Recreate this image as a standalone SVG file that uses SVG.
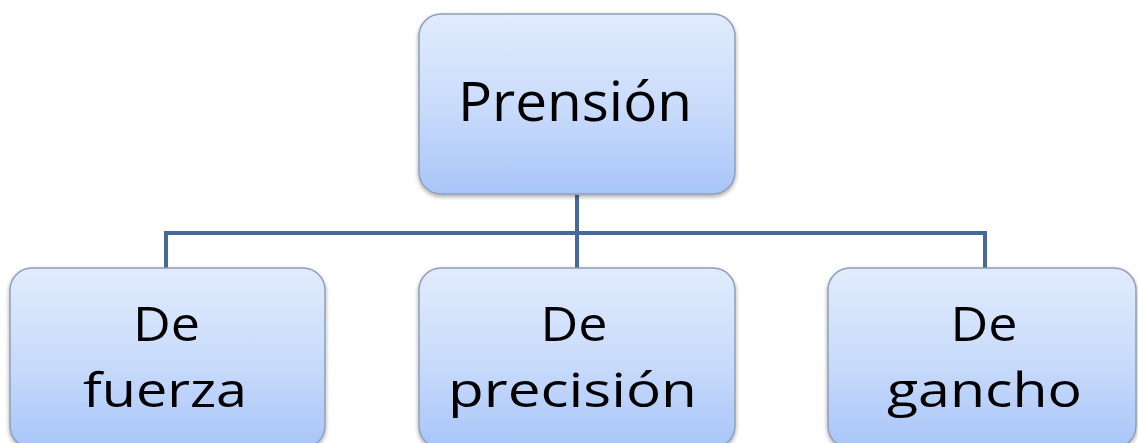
<svg xmlns="http://www.w3.org/2000/svg" width="1138" height="443" viewBox="0 0 1138 443">
  <defs>
    <linearGradient id="boxFill" x1="0" y1="0" x2="0" y2="1">
      <stop offset="0" stop-color="#e1ebfc"/>
      <stop offset="0.5" stop-color="#cadcfb"/>
      <stop offset="1" stop-color="#a8c5f8"/>
    </linearGradient>
    <filter id="shadow" x="-10%" y="-10%" width="120%" height="130%">
      <feDropShadow dx="0" dy="2" stdDeviation="2" flood-color="#000" flood-opacity="0.35"/>
    </filter>
  </defs>
  <style>
    .box { fill: url(#boxFill); stroke: #8e9fb8; stroke-width: 1.5; filter: url(#shadow); }
    .label { font-family: "Open Sans", "Noto Sans", sans-serif; fill: #000; text-anchor: middle; }
    .top { font-size: 54px; }
    .sub { font-size: 48px; }
    .link { fill: none; stroke: #45699a; stroke-width: 4; }
  </style>
  <rect width="1138" height="443" fill="#fff"/>

  <g id="connectors">
    <path class="link" d="M577 195 V233 M166 233 H985 M166 231 V268 M577 233 V268 M985 231 V268"/>
  </g>

  <g id="node-prension">
    <rect class="box" x="419" y="14" width="316" height="180" rx="22"/>
    <text class="label top" x="575" y="121" textLength="234" lengthAdjust="spacingAndGlyphs">Prensión</text>
  </g>

  <g id="node-fuerza">
    <rect class="box" x="10" y="268" width="315" height="180" rx="22"/>
    <text class="label sub" x="166.5" y="341" textLength="67" lengthAdjust="spacingAndGlyphs">De</text>
    <text class="label sub" x="165" y="407" textLength="164" lengthAdjust="spacingAndGlyphs">fuerza</text>
  </g>

  <g id="node-precision">
    <rect class="box" x="419" y="268" width="316" height="180" rx="22"/>
    <text class="label sub" x="574" y="341" textLength="67" lengthAdjust="spacingAndGlyphs">De</text>
    <text class="label sub" x="572.5" y="407" textLength="249" lengthAdjust="spacingAndGlyphs">precisión</text>
  </g>

  <g id="node-gancho">
    <rect class="box" x="828" y="268" width="308" height="180" rx="22"/>
    <text class="label sub" x="984" y="341" textLength="67" lengthAdjust="spacingAndGlyphs">De</text>
    <text class="label sub" x="984.5" y="407" textLength="195" lengthAdjust="spacingAndGlyphs">gancho</text>
  </g>
</svg>
